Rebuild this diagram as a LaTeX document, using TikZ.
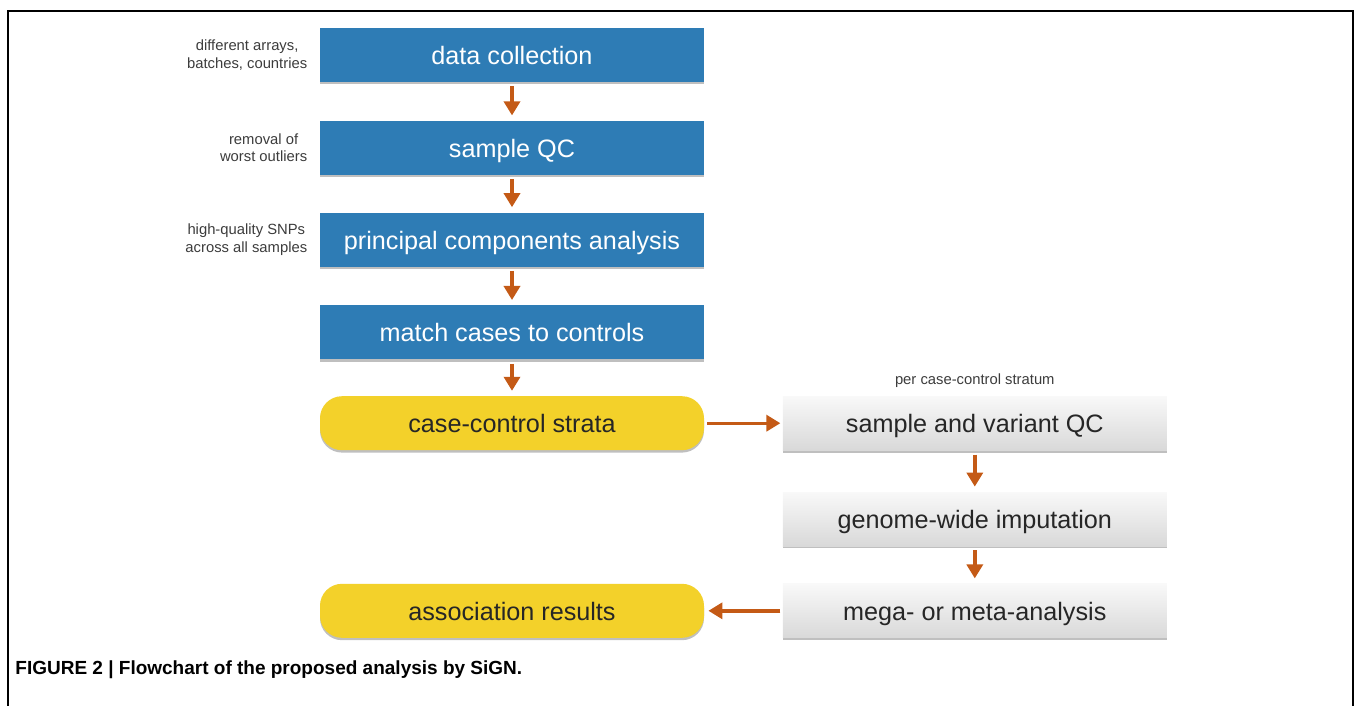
\documentclass[tikz,border=0pt]{standalone}
\usepackage{fontspec}
\setmainfont{Liberation Sans}
\usetikzlibrary{positioning, arrows.meta, shadows}

\definecolor{boxblue}{RGB}{46,124,181}
\definecolor{boxyellow}{RGB}{243,209,42}
\definecolor{arroworange}{RGB}{196,90,22}
\definecolor{notegray}{RGB}{60,60,60}

\tikzset{
  box/.style={rectangle, minimum width=192pt, minimum height=27pt, inner sep=0pt,
    text height=9.5pt, text depth=0pt,
    font=\fontsize{12.6}{15}\selectfont,
    drop shadow={shadow xshift=0pt, shadow yshift=-1.2pt, opacity=0.25, fill=black}},
  bluebox/.style={box, fill=boxblue, text=white},
  yellowbox/.style={box, fill=boxyellow, rounded corners=11pt, text=black!85},
  greybox/.style={box, top color=gray!5, bottom color=gray!30, text=black!85},
  note/.style={align=center, text=notegray, inner sep=0pt,
    font=\fontsize{7.4}{8.6}\selectfont},
  flow/.style={-{Triangle[width=8pt,length=7pt]}, line width=1.7pt, color=arroworange,
    shorten >=2.5pt, shorten <=2pt}
}

\begin{document}
\begin{tikzpicture}[x=0.5pt, y=-0.5pt]
        \useasboundingbox (0,0) rectangle (1357,706);
        \draw[line width=0.8pt] (8,706) -- (8,11) -- (1353,11) -- (1353,706);

        \node[bluebox] (collect) at (512,55) {data collection};
        \node[bluebox, below=19pt of collect] (sampleqc) {sample QC};
        \node[bluebox, below=18.5pt of sampleqc] (pca) {principal components analysis};
        \node[bluebox, below=19pt of pca] (match) {match cases to controls};
        \node[yellowbox, below=18pt of match] (strata) {case-control strata};

        \node[note, left=6pt of collect] {different arrays,\\batches, countries};
        \node[note, left=6pt of sampleqc] {removal of\\worst outliers};
        \node[note, left=6pt of pca] {high-quality SNPs\\across all samples};

        \node[greybox, right=39pt of strata] (varqc) {sample and variant QC};
        \node[note, above=4pt of varqc] {per case-control stratum};
        \node[greybox, below=20.5pt of varqc] (impute) {genome-wide imputation};
        \node[greybox, below=18.5pt of impute] (meta) {mega- or meta-analysis};
        \node[yellowbox] (assoc) at (strata |- meta) {association results};

        \node[anchor=base west, inner sep=0pt, font=\fontsize{9.5}{11}\selectfont\bfseries] (caption) at (15,674)
            {FIGURE 2 | Flowchart of the proposed analysis by SiGN.};

        \draw[flow] (collect) -- (sampleqc);
        \draw[flow] (sampleqc) -- (pca);
        \draw[flow] (pca) -- (match);
        \draw[flow] (match) -- (strata);
        \draw[flow, shorten >=1pt, shorten <=1.5pt] (strata) -- (varqc);
        \draw[flow] (varqc) -- (impute);
        \draw[flow] (impute) -- (meta);
        \draw[flow, shorten >=2pt, shorten <=1pt] (meta) -- (assoc);
\end{tikzpicture}
\end{document}
